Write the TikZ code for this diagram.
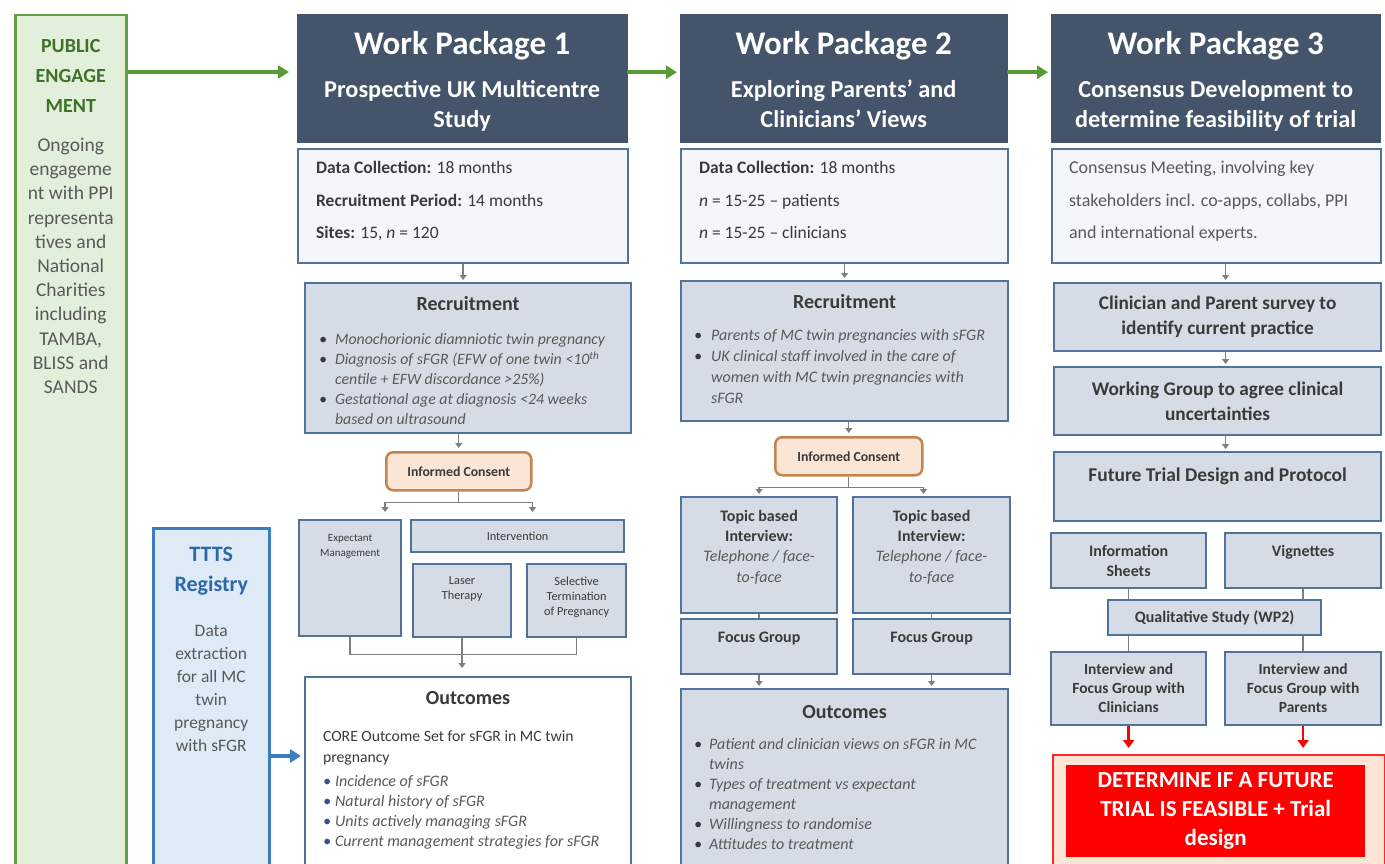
\documentclass[tikz,border=0pt]{standalone}
\usepackage{fontspec}
\setmainfont{Carlito}
\usetikzlibrary{arrows.meta, positioning}

\definecolor{headcol}{HTML}{44546A}
\definecolor{boxline}{HTML}{50729B}
\definecolor{boxfill}{HTML}{D6DCE5}
\definecolor{infofill}{HTML}{F4F6F9}
\definecolor{darktext}{HTML}{3A3A3A}
\definecolor{greytext}{HTML}{595959}
\definecolor{pubfill}{HTML}{E2EFDA}
\definecolor{publine}{HTML}{62A03F}
\definecolor{pubtext}{HTML}{3E7228}
\definecolor{pubarrow}{HTML}{5A9A35}
\definecolor{tttsfill}{HTML}{DEEBF7}
\definecolor{tttsline}{HTML}{3B7DC1}
\definecolor{tttstext}{HTML}{2E68A8}
\definecolor{consentfill}{HTML}{FBE5D6}
\definecolor{consentline}{HTML}{C5834F}
\definecolor{detfill}{HTML}{FCE4D6}
\definecolor{detred}{HTML}{FF0000}
\definecolor{linkgrey}{HTML}{7F7F7F}
\definecolor{bulblue}{HTML}{2F5597}
\colorlet{bulcol}{darktext}

\newcommand{\fs}[2]{\fontsize{#1}{#2}\selectfont}
\newcommand{\cell}[3]{\parbox[t][#2][t]{#1}{#3}}
\newcommand{\bul}[2][16pt]{\par\hangindent=#1\hangafter=1\noindent\makebox[#1][l]{\textcolor{bulcol}{\textbullet}}#2\par}

\tikzset{
  base/.style={anchor=north west, inner ysep=0pt, line width=2.2pt, draw=boxline, text=darktext},
  infobox/.style={base, fill=infofill, inner xsep=17pt},
  greybox/.style={base, fill=boxfill, inner xsep=13pt},
  centrebox/.style={base, fill=boxfill, inner xsep=4pt, align=flush center},
  headbox/.style={anchor=north west, fill=headcol, draw=headcol, text=white, inner xsep=6pt, inner ysep=0pt, font=\bfseries},
  consent/.style={anchor=north west, fill=consentfill, draw=consentline, line width=2.5pt, rounded corners=7pt, inner sep=2pt, font=\bfseries\fs{13.8}{16}, text=darktext},
  link/.style={draw=linkgrey, line width=1.3pt, shorten >=2pt, -{Triangle[width=7pt,length=5pt]}},
  joint/.style={draw=linkgrey, line width=1.3pt},
  flowgreen/.style={draw=pubarrow, line width=4pt, -{Triangle[width=13pt,length=11pt]}},
  feedblue/.style={draw=tttsline, line width=4pt, -{Triangle[width=13pt,length=11pt]}},
  redarrow/.style={draw=detred, line width=2.5pt, shorten >=6pt, -{Triangle[width=11pt,length=8pt]}}
}

\begin{document}
\begin{tikzpicture}[x=1pt, y=-1pt]
\useasboundingbox (0,0) rectangle (1385,864);
\fill[white] (0,0) rectangle (1385,864);
\clip (0,0) rectangle (1385,864);

% side boxes
\node[base, draw=publine, line width=2.5pt, fill=pubfill, inner xsep=3pt, text=greytext] (pub) at (14,14)
  {\cell{105pt}{880pt}{\centering\vspace*{24pt}{\color{pubtext}\bfseries\fs{20}{30}PUBLIC\\ENGAGE\\MENT\par}\vspace{15pt}\fs{19.5}{24.2}Ongoing\\engageme\\nt with PPI\\representa\\tives and\\National\\Charities\\including\\TAMBA,\\BLISS and\\SANDS\par}};
\node[base, draw=tttsline, line width=2.5pt, fill=tttsfill, inner xsep=3pt, text=greytext] (ttts) at (152,527)
  {\cell{110pt}{360pt}{\centering\vspace*{19pt}{\color{tttstext}\bfseries\fs{22}{30}TTTS\\Registry\par}\vspace{22pt}\fs{17.5}{23}Data\\extraction\\for all MC\\twin\\pregnancy\\with sFGR\par}};

% headers
\node[headbox] (wp1) at (297,14)
  {\cell{318pt}{128pt}{\centering\vspace*{17.5pt}{\fs{33}{36}Work Package 1\par}\vspace{13pt}\fs{24.3}{30}Prospective UK Multicentre\\Study\par}};
\node[headbox] (wp2) at (680,14)
  {\cell{315pt}{128pt}{\centering\vspace*{17.5pt}{\fs{33}{36}Work Package 2\par}\vspace{13pt}\fs{24.3}{30}Exploring Parents’ and\\Clinicians’ Views\par}};
\node[headbox] (wp3) at (1051,14)
  {\cell{317pt}{128pt}{\centering\vspace*{17.5pt}{\fs{33}{36}Work Package 3\par}\vspace{13pt}\fs{24.3}{30}Consensus Development to\\determine feasibility of trial\par}};

% work package 1
\node[infobox, inner xsep=18pt] (info1) at (297,148)
  {\cell{294pt}{114pt}{\fs{17.5}{32.5}\vspace*{12.5pt}\textbf{Data Collection:} 18 months\\ \textbf{Recruitment Period:} 14 months\\ \textbf{Sites:} 15, \textit{n} = 120}};
\node[greybox, inner xsep=14pt] (rec1) at (304,282)
  {\cell{298pt}{150pt}{\vspace*{13.5pt}{\centering\bfseries\fs{20}{24}Recruitment\par}\vspace{14pt}\fs{15.8}{20}\color{greytext}\itshape
   \bul{Monochorionic diamniotic twin pregnancy}
   \bul{Diagnosis of sFGR (EFW of one twin <10\textsuperscript{th}\\ centile + EFW discordance >25\%)}
   \bul{Gestational age at diagnosis <24 weeks\\ based on ultrasound}}};
\node[consent, minimum width=145pt, minimum height=38pt] (con1) at (385,451) {Informed Consent};
\node[greybox, inner xsep=3pt] (exp1) at (298,519)
  {\cell{96pt}{116pt}{\centering\fs{11}{15}\vspace*{14pt}Expectant\\Management}};
\node[centrebox, minimum width=213pt, minimum height=32pt, font=\fs{12.3}{15}] (int1) at (410,519) {Intervention};
\node[greybox, inner xsep=3pt] (laser1) at (412,563)
  {\cell{92pt}{73pt}{\centering\fs{12.3}{15}\vspace*{13pt}Laser\\Therapy}};
\node[greybox, inner xsep=3pt] (stp1) at (526,563)
  {\cell{93pt}{73pt}{\centering\fs{12.3}{15}\vspace*{13pt}Selective\\Termination\\of Pregnancy}};
\node[base, fill=white, inner xsep=18pt] (out1) at (304,676)
  {\cell{290pt}{200pt}{\vspace*{14.5pt}{\centering\bfseries\fs{20}{24}Outcomes\par}\vspace{15.5pt}\fs{15.7}{21}CORE Outcome Set for sFGR in MC twin\\ pregnancy\par\vspace{4pt}\colorlet{bulcol}{bulblue}\fs{16}{20}\color{greytext}\itshape
   \bul[12pt]{Incidence of sFGR}
   \bul[12pt]{Natural history of sFGR}
   \bul[12pt]{Units actively managing sFGR}
   \bul[12pt]{Current management strategies for sFGR}}};

% work package 2
\node[infobox, inner xsep=18pt] (info2) at (680,148)
  {\cell{291pt}{114pt}{\fs{17.5}{32.5}\vspace*{12.5pt}\textbf{Data Collection:} 18 months\\ \textit{n} = 15-25 -- patients\\ \textit{n} = 15-25 -- clinicians}};
\node[greybox] (rec2) at (680,280)
  {\cell{301pt}{140pt}{\vspace*{13.5pt}{\centering\bfseries\fs{20}{24}Recruitment\par}\vspace{11pt}\fs{16}{21}\color{greytext}\itshape
   \bul[17pt]{Parents of MC twin pregnancies with sFGR}
   \bul[17pt]{UK clinical staff involved in the care of\\ women with MC twin pregnancies with\\ sFGR}}};
\node[consent, minimum width=147pt, minimum height=38pt] (con2) at (774,436) {Informed Consent};
\node[greybox, inner xsep=3pt] (top2a) at (680,496)
  {\cell{150pt}{116pt}{\centering\fs{16}{20.3}\vspace*{13pt}\textbf{Topic based\\Interview:}\par{\color{greytext}\itshape Telephone / face-\\to-face\par}}};
\node[greybox, inner xsep=3pt] (top2b) at (852,496)
  {\cell{151pt}{116pt}{\centering\fs{16}{20.3}\vspace*{13pt}\textbf{Topic based\\Interview:}\par{\color{greytext}\itshape Telephone / face-\\to-face\par}}};
\node[greybox, inner xsep=3pt] (foc2a) at (680,618)
  {\cell{150pt}{55pt}{\centering\bfseries\fs{16}{20}\vspace*{13pt}Focus Group}};
\node[greybox, inner xsep=3pt] (foc2b) at (852,618)
  {\cell{151pt}{55pt}{\centering\bfseries\fs{16}{20}\vspace*{13pt}Focus Group}};
\node[greybox] (out2) at (680,688)
  {\cell{301pt}{200pt}{\vspace*{16.5pt}{\centering\bfseries\fs{20}{24}Outcomes\par}\vspace{11pt}\fs{16}{20}\color{greytext}\itshape
   \bul[15pt]{Patient and clinician views on sFGR in MC\\ twins}
   \bul[15pt]{Types of treatment vs expectant\\ management}
   \bul[15pt]{Willingness to randomise}
   \bul[15pt]{Attitudes to treatment}}};

% work package 3
\node[infobox, text=greytext] (info3) at (1051,148)
  {\cell{295pt}{114pt}{\fs{18}{32.5}\vspace*{12pt}Consensus Meeting, involving key\\ stakeholders incl. co-apps, collabs, PPI\\ and international experts.}};
\node[centrebox, minimum width=327pt, minimum height=68pt, text width=315pt, font=\bfseries\fs{19.3}{25}] (sur3) at (1053,282)
  {Clinician and Parent survey to\\identify current practice};
\node[centrebox, minimum width=327pt, minimum height=68pt, text width=315pt, font=\bfseries\fs{19.3}{25}] (work3) at (1053,366)
  {Working Group to agree clinical\\uncertainties};
\node[greybox] (fut3) at (1053,451)
  {\cell{301pt}{69pt}{\centering\bfseries\fs{19.5}{25}\vspace*{15.5pt}Future Trial Design and Protocol}};
\node[centrebox, minimum width=155pt, minimum height=55pt, text width=147pt, font=\bfseries\fs{16}{20}] (sht3) at (1050,532)
  {Information\\Sheets};
\node[greybox, inner xsep=4pt] (vig3) at (1224,532)
  {\cell{148pt}{55pt}{\centering\bfseries\fs{16}{20}\vspace*{12.5pt}Vignettes}};
\node[centrebox, minimum width=213pt, minimum height=35pt, font=\bfseries\fs{16}{18}] (qual3) at (1107,599)
  {Qualitative Study (WP2)};
\node[centrebox, minimum width=155pt, minimum height=73pt, text width=147pt, font=\bfseries\fs{15.5}{19}] (iv3a) at (1050,651)
  {Interview and\\Focus Group with\\Clinicians};
\node[centrebox, minimum width=156pt, minimum height=73pt, text width=148pt, font=\bfseries\fs{15.5}{19}] (iv3b) at (1224,651)
  {Interview and\\Focus Group with\\Parents};
\node[anchor=north west, draw=detred!85, line width=2pt, fill=detfill, minimum width=332pt, minimum height=120pt] (detframe) at (1052,754) {};
\node[anchor=north west, fill=detred, text=white, font=\bfseries\fs{23}{29}, align=flush center, minimum width=299pt, minimum height=92pt, text width=291pt, inner sep=4pt] (det3) at (1066,765)
  {DETERMINE IF A FUTURE\\TRIAL IS FEASIBLE + Trial\\design};

% connectors
\draw[flowgreen, shorten >=8pt] ([yshift=-58pt]pub.north east) coordinate (g0) -- (g0 -| wp1.west);
\draw[flowgreen, shorten >=3pt] ([yshift=6pt]wp1.east) -- ([yshift=6pt]wp2.west);
\draw[flowgreen, shorten >=3pt] ([yshift=6pt]wp2.east) -- ([yshift=6pt]wp3.west);
\draw[feedblue, shorten >=3pt] ([yshift=-229pt]ttts.north east) coordinate (f1) -- (f1 -| out1.west);

\draw[link] (info1.south) -- (info1.south |- rec1.north);
\draw[link, shorten >=3pt] (con1.north |- rec1.south) -- (con1.north);
\draw[joint] (con1.south) -- ++(0,11) coordinate (split1);
\draw[link, shorten >=7pt] (split1) -| (con1.south west |- exp1.north);
\draw[link, shorten >=7pt] (split1) -| (con1.south east |- int1.north);
\draw[joint] (exp1.south) -- ++(0,17) coordinate (b1) -| (stp1.south);
\draw[link, shorten >=8pt] (laser1.south) -- (laser1.south |- out1.north);

\draw[link] (info2.south) -- (info2.south |- rec2.north);
\draw[link, shorten >=3pt] (con2.north |- rec2.south) -- (con2.north);
\draw[joint] (con2.south) -- ++(0,11) coordinate (split2);
\draw[link] (split2) -| (top2a.north);
\draw[link] (split2) -| (con2.south east |- top2b.north);
\draw[joint] (top2a) -- (foc2a);
\draw[joint] (top2b) -- (foc2b);
\draw[link] (foc2a.south) -- (foc2a.south |- out2.north);
\draw[link] (foc2b.south) -- (foc2b.south |- out2.north);

\draw[link] ([xshift=8pt]sur3.north |- info3.south) -- ([xshift=8pt]sur3.north);
\draw[link] ([xshift=8pt]sur3.south) -- ([xshift=8pt]work3.north);
\draw[link] ([xshift=8pt]work3.south) -- ([xshift=8pt]fut3.north);
\draw[joint] (sht3.south) -- (sht3.south |- qual3.north);
\draw[joint] (vig3.south) -- (vig3.south |- qual3.north);
\draw[joint] (qual3.south -| iv3a.north) -- (iv3a.north);
\draw[joint] (qual3.south -| iv3b.north) -- (iv3b.north);
\draw[redarrow] (iv3a.south) -- (iv3a.south |- detframe.north);
\draw[redarrow] (iv3b.south) -- (iv3b.south |- detframe.north);
\end{tikzpicture}
\end{document}
